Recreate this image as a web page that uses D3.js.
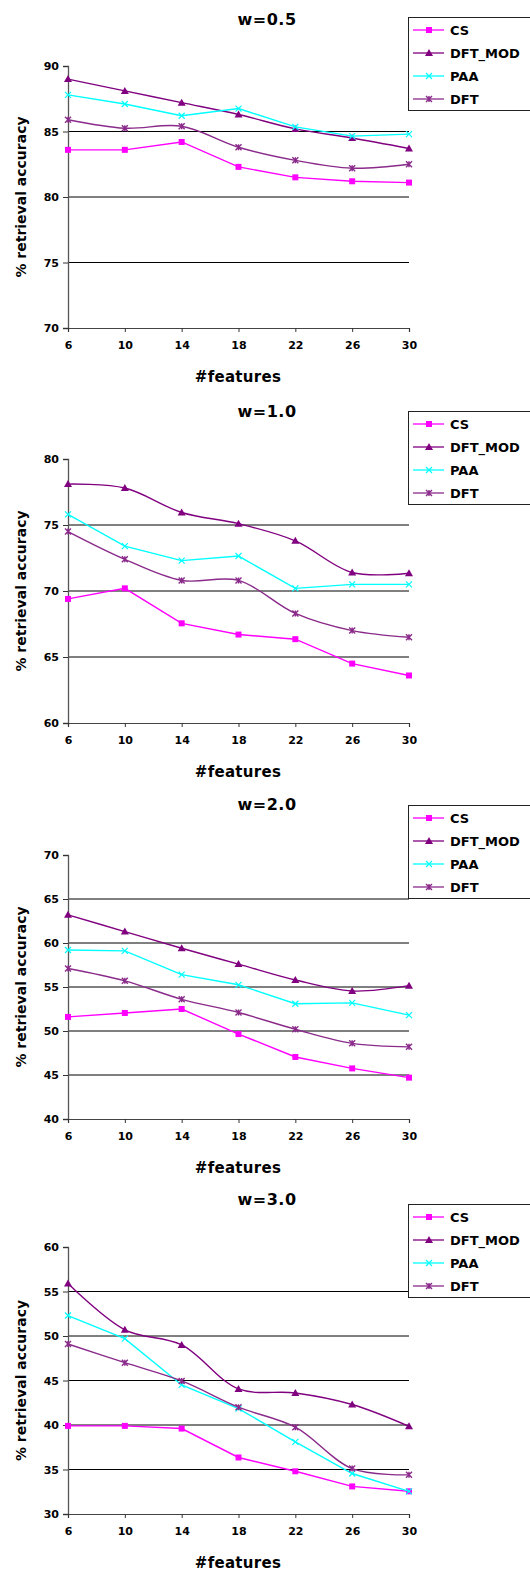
<!DOCTYPE html>
<html>
<head>
<meta charset="utf-8">
<script src="https://cdn.jsdelivr.net/npm/d3@7"></script>
<style>
    body { margin: 0; background: #fff; }
    svg { display: block; }
    text { font-family: "DejaVu Sans", Verdana, sans-serif; font-weight: bold; fill: #000; }
</style>
</head>
<body>
<script>
// chart data
const features = [6, 10, 14, 18, 22, 26, 30];
const seriesNames = ["CS", "DFT_MOD", "PAA", "DFT"];
const panelTitles = ["w=0.5", "w=1.0", "w=2.0", "w=3.0"];
const yDomains = [[70, 90], [60, 80], [40, 70], [30, 60]];
const yTicks = [
    [70, 75, 80, 85, 90],
    [60, 65, 70, 75, 80],
    [40, 45, 50, 55, 60, 65, 70],
    [30, 35, 40, 45, 50, 55, 60]
];

const cs05 = [83.6, 83.6, 84.2, 82.3, 81.5, 81.2, 81.1];
const dftMod05 = [89.0, 88.1, 87.2, 86.3, 85.2, 84.5, 83.7];
const paa05 = [87.8, 87.1, 86.2, 86.75, 85.35, 84.65, 84.8];
const dft05 = [85.9, 85.25, 85.4, 83.8, 82.8, 82.2, 82.5];

const cs10 = [69.4, 70.2, 67.55, 66.7, 66.35, 64.5, 63.6];
const dftMod10 = [78.1, 77.8, 75.95, 75.1, 73.8, 71.4, 71.35];
const paa10 = [75.8, 73.4, 72.3, 72.65, 70.2, 70.5, 70.5];
const dft10 = [74.5, 72.4, 70.8, 70.8, 68.3, 67.0, 66.5];

const cs20 = [51.6, 52.05, 52.5, 49.65, 47.05, 45.75, 44.7];
const dftMod20 = [63.2, 61.3, 59.4, 57.6, 55.8, 54.55, 55.15];
const paa20 = [59.2, 59.1, 56.4, 55.25, 53.1, 53.2, 51.8];
const dft20 = [57.1, 55.7, 53.6, 52.1, 50.2, 48.6, 48.2];

const cs30 = [39.9, 39.9, 39.6, 36.35, 34.8, 33.1, 32.55];
const dftMod30 = [55.9, 50.7, 49.0, 44.05, 43.6, 42.3, 39.85];
const paa30 = [52.3, 49.7, 44.5, 41.85, 38.1, 34.55, 32.55];
const dft30 = [49.1, 47.0, 44.95, 42.0, 39.75, 35.1, 34.4];

const panelValues = [
    [cs05, dftMod05, paa05, dft05],
    [cs10, dftMod10, paa10, dft10],
    [cs20, dftMod20, paa20, dft20],
    [cs30, dftMod30, paa30, dft30]
];

// look of each series
const seriesColor = ["#ff00ff", "#800080", "#00ffff", "#8a2a8a"];
const seriesMarker = ["square", "triangle", "cross", "star"];
const seriesSmooth = [false, true, false, true];

// layout of the four stacked panels
const width = 530, height = 1573;
const xLeft = 68, xRight = 409;
const plotTop = [66, 459, 855, 1247];
const plotBottom = [328, 723, 1119, 1514];
const titleY = [19, 411, 804, 1199];
const legendTop = [17, 411, 805, 1204];

const svg = d3.select("body").append("svg")
    .attr("width", width)
    .attr("height", height);

const x = d3.scaleLinear().domain([6, 30]).range([xLeft, xRight]);

function drawMarker(g, type, color) {
    if (type === "square") {
        g.append("rect").attr("x", -3).attr("y", -3).attr("width", 6).attr("height", 6)
            .attr("fill", color);
    } else if (type === "triangle") {
        g.append("path").attr("d", "M0,-4L4,3L-4,3Z").attr("fill", color);
    } else if (type === "cross") {
        g.append("path").attr("d", "M-3,-3L3,3M-3,3L3,-3")
            .attr("stroke", color).attr("stroke-width", 1.2).attr("fill", "none");
    } else {
        g.append("path").attr("d", "M-3,-3L3,3M-3,3L3,-3M0,-3L0,3")
            .attr("stroke", color).attr("stroke-width", 1.4).attr("fill", "none");
    }
}

function drawPanel(p) {
    const y = d3.scaleLinear().domain(yDomains[p]).range([plotBottom[p], plotTop[p]]);
    const g = svg.append("g").attr("class", "panel");

    // horizontal gridlines (none on the top value)
    g.append("g").selectAll("line")
        .data(yTicks[p].slice(1, -1))
        .enter().append("line")
        .attr("x1", xLeft).attr("x2", xRight)
        .attr("y1", d => y(d)).attr("y2", d => y(d))
        .attr("stroke", "#000").attr("stroke-width", 1);

    // y axis
    const yAxis = g.append("g")
        .attr("transform", "translate(" + xLeft + ",0)")
        .call(d3.axisLeft(y).tickValues(yTicks[p]).tickSize(5).tickPadding(4));
    yAxis.select(".domain").attr("stroke", "#555").attr("stroke-width", 1.3);
    yAxis.selectAll(".tick line").attr("stroke", "#333");
    yAxis.selectAll("text").style("font-size", "11px");

    // x axis
    const xAxis = g.append("g")
        .attr("transform", "translate(0," + plotBottom[p] + ")")
        .call(d3.axisBottom(x).tickValues(features).tickSize(4).tickPadding(9));
    xAxis.select(".domain").attr("stroke", "#444").attr("stroke-width", 1.2);
    xAxis.selectAll(".tick line").attr("stroke", "#333");
    xAxis.selectAll("text").style("font-size", "11px");

    // titles
    g.append("text")
        .attr("x", 267).attr("y", titleY[p])
        .attr("text-anchor", "middle").attr("dy", "0.35em")
        .style("font-size", "16px").style("letter-spacing", "0.5px")
        .text(panelTitles[p]);

    g.append("text")
        .attr("x", 238).attr("y", plotBottom[p] + 49)
        .attr("text-anchor", "middle").attr("dy", "0.35em")
        .style("font-size", "15px").style("letter-spacing", "0.3px")
        .text("#features");

    g.append("text")
        .attr("transform", "translate(21," + (plotTop[p] + plotBottom[p]) / 2 + ") rotate(-90)")
        .attr("text-anchor", "middle").attr("dy", "0.35em")
        .style("font-size", "14px")
        .text("% retrieval accuracy");

    // series lines + markers
    panelValues[p].forEach(function(values, s) {
        const pts = values.map((v, i) => [x(features[i]), y(v)]);
        const line = d3.line()
            .curve(seriesSmooth[s] ? d3.curveCatmullRom.alpha(0.5) : d3.curveLinear);
        g.append("path")
            .attr("d", line(pts))
            .attr("fill", "none")
            .attr("stroke", seriesColor[s])
            .attr("stroke-width", 1.4);
        pts.forEach(function(pt) {
            const m = g.append("g").attr("transform", "translate(" + pt[0] + "," + pt[1] + ")");
            drawMarker(m, seriesMarker[s], seriesColor[s]);
        });
    });

    // legend, cut off by the right edge like the original
    const lg = g.append("g").attr("transform", "translate(408," + legendTop[p] + ")");
    lg.append("rect")
        .attr("x", 0.5).attr("y", 0.5).attr("width", 140).attr("height", 93)
        .attr("fill", "#fff").attr("stroke", "#222").attr("stroke-width", 1);
    seriesNames.forEach(function(name, s) {
        const ey = 13 + s * 23;
        lg.append("line")
            .attr("x1", 5).attr("x2", 36).attr("y1", ey).attr("y2", ey)
            .attr("stroke", seriesColor[s]).attr("stroke-width", 1.3);
        drawMarker(lg.append("g").attr("transform", "translate(21," + ey + ")"), seriesMarker[s], seriesColor[s]);
        lg.append("text")
            .attr("x", 42).attr("y", ey).attr("dy", "0.35em")
            .style("font-size", "13px")
            .text(name);
    });
}

for (let p = 0; p < panelTitles.length; p++) drawPanel(p);
</script>
</body>
</html>
